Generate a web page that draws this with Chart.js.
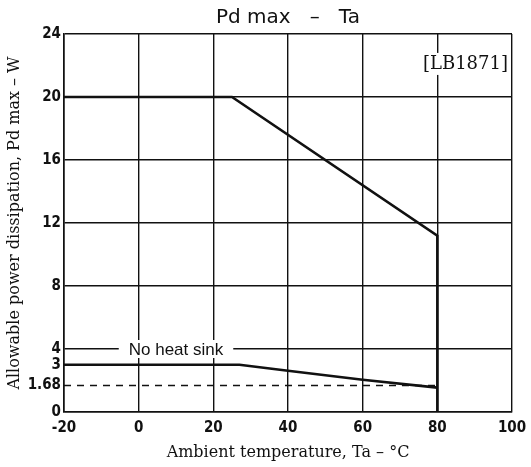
<!DOCTYPE html>
<html>
<head>
<meta charset="utf-8">
<script src="https://cdn.jsdelivr.net/npm/chart.js@4.4.1/dist/chart.umd.min.js"></script>
<style>
  html, body { margin: 0; padding: 0; background: #fff; }
  #wrap { width: 531px; height: 467px; }
</style>
</head>
<body>
<div id="wrap"><canvas id="pdChart" width="531" height="467"></canvas></div>
<script>
// Pd max - Ta derating graph (LB1871)

// Data
const heatSinkTa = [-20, 25, 80, 80];
const heatSinkPd = [20, 20, 11.2, 0];
const noSinkTa = [-20, 27, 40, 60, 80];
const noSinkPd = [3, 3, 2.62, 2.05, 1.55];
const refTa = [-20, 80];
const refPd = [1.68, 1.68];
const xTicks = [-20, 0, 20, 40, 60, 80, 100];
const yTicks = [0, 1.68, 3, 4, 8, 12, 16, 20, 24];
const yNoGrid = [1.68, 3];

const INK = '#111';

function toPoints(xs, ys) {
    return xs.map((v, i) => ({ x: v, y: ys[i] }));
}

// Text labels drawn over the grid
const labelsPlugin = {
    id: 'labels',
    afterDatasetsDraw(chart) {
        const { ctx, scales: { x, y } } = chart;
        ctx.save();

        // "No heat sink" sits on the 4 W grid line with a white gap
        ctx.font = '17px "Liberation Sans", Arial, sans-serif';
        const txt = 'No heat sink';
        const w = ctx.measureText(txt).width;
        const cx = x.getPixelForValue(10);
        const cy = y.getPixelForValue(4);
        ctx.fillStyle = '#fff';
        ctx.fillRect(cx - w / 2 - 10, cy - 9, w + 20, 18);
        ctx.fillStyle = INK;
        ctx.textAlign = 'center';
        ctx.textBaseline = 'middle';
        ctx.fillText(txt, cx, cy + 1);

        // Part number, top right
        ctx.font = '18px "DejaVu Serif", serif';
        const tag = '[LB1871]';
        const tw = ctx.measureText(tag).width;
        const tx = x.right - 4;
        const ty = y.getPixelForValue(22.1);
        ctx.fillStyle = '#fff';
        ctx.fillRect(tx - tw - 3, ty - 11, tw + 5, 22);
        ctx.fillStyle = INK;
        ctx.textAlign = 'right';
        ctx.fillText(tag, tx, ty);

        ctx.restore();
    }
};

const tickFont = { family: '"DejaVu Sans Condensed", "DejaVu Sans", sans-serif', size: 15, weight: 'bold' };

const ctx = document.getElementById('pdChart').getContext('2d');
const pdChart = new Chart(ctx, {
    type: 'line',
    data: {
        datasets: [
            {
                label: 'With heat sink',
                data: toPoints(heatSinkTa, heatSinkPd),
                borderColor: INK,
                borderWidth: 2.6,
                pointRadius: 0,
                tension: 0
            },
            {
                label: 'No heat sink',
                data: toPoints(noSinkTa, noSinkPd),
                borderColor: INK,
                borderWidth: 2.6,
                pointRadius: 0,
                tension: 0
            },
            {
                label: '1.68 W',
                data: toPoints(refTa, refPd),
                borderColor: INK,
                borderWidth: 1.6,
                borderDash: [7, 6],
                pointRadius: 0,
                tension: 0
            }
        ]
    },
    options: {
        responsive: false,
        animation: false,
        layout: { padding: { top: 0, right: 19, bottom: 0, left: 0 } },
        plugins: {
            legend: { display: false },
            tooltip: { enabled: false },
            title: {
                display: true,
                text: 'Pd max   \u2013   Ta',
                fullSize: false,
                color: INK,
                font: { family: '"DejaVu Sans", sans-serif', size: 20, weight: 'normal' },
                padding: { top: 6, bottom: 4 }
            }
        },
        scales: {
            x: {
                type: 'linear',
                min: -20,
                max: 100,
                afterBuildTicks: scale => { scale.ticks = xTicks.map(v => ({ value: v })); },
                afterFit: scale => {
                    scale.height = 55;
                    scale.paddingRight = 0;
                },
                ticks: {
                    autoSkip: false,
                    maxRotation: 0,
                    color: INK,
                    font: tickFont,
                    padding: 7
                },
                grid: { color: INK, lineWidth: 1.4, drawTicks: false },
                border: { color: INK, width: 1.6 },
                title: {
                    display: true,
                    text: 'Ambient temperature, Ta \u2013 \u00B0C',
                    color: INK,
                    font: { family: '"DejaVu Serif", serif', size: 16 },
                    padding: { top: 0, bottom: 5 }
                }
            },
            y: {
                type: 'linear',
                min: 0,
                max: 24,
                afterBuildTicks: scale => { scale.ticks = yTicks.map(v => ({ value: v })); },
                afterFit: scale => { scale.width = 64; },
                ticks: {
                    autoSkip: false,
                    color: INK,
                    font: tickFont,
                    padding: 3,
                    callback: v => String(v)
                },
                grid: {
                    color: c => (c.tick && yNoGrid.includes(c.tick.value)) ? 'rgba(0,0,0,0)' : INK,
                    lineWidth: 1.4,
                    drawTicks: false
                },
                border: { color: INK, width: 1.6 },
                title: {
                    display: true,
                    text: 'Allowable power dissipation, Pd max \u2013 W',
                    color: INK,
                    font: { family: '"DejaVu Serif", serif', size: 16 },
                    padding: { top: 5, bottom: 0 }
                }
            }
        }
    },
    plugins: [labelsPlugin]
});
</script>
</body>
</html>
